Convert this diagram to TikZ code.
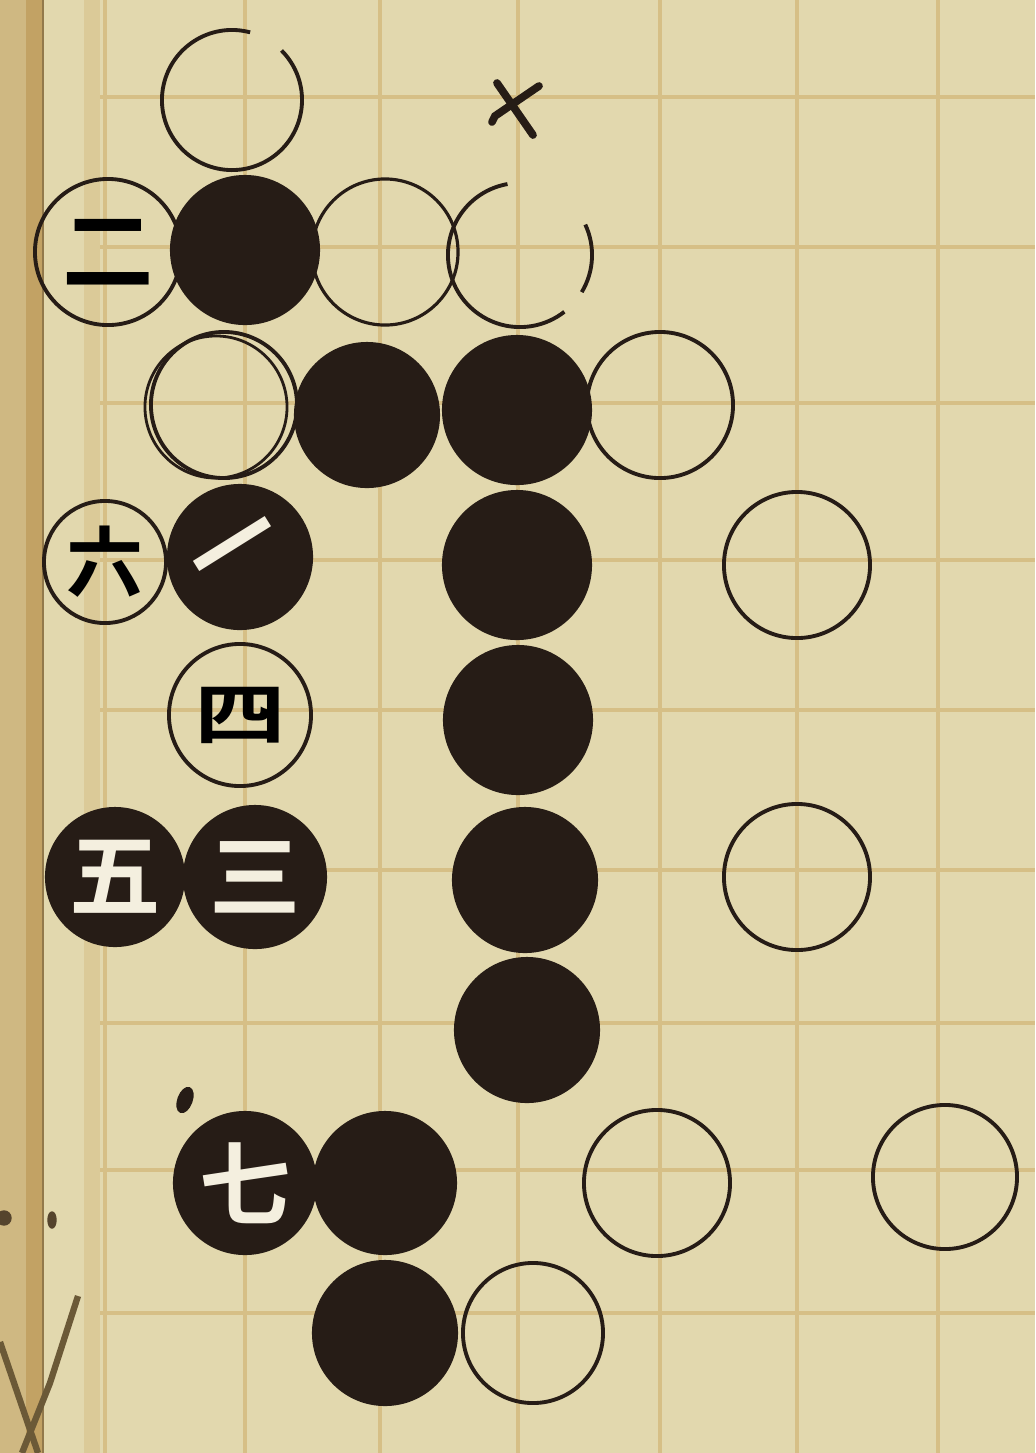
\documentclass[tikz,border=0pt]{standalone}
\usepackage{fontspec}
\usepackage{tikz}
\newfontfamily\jpfont{Noto Sans CJK JP}[BoldFont={Noto Sans CJK JP Bold}]
\definecolor{paper}{HTML}{E2D8AE}
\definecolor{rule}{HTML}{D6BF86}
\definecolor{binding}{HTML}{C2A264}
\definecolor{ink}{HTML}{261C16}
\tikzset{
	stone/.style={circle, minimum size=1.46cm, inner sep=0pt, font=\jpfont\bfseries\fontsize{26}{26}\selectfont},
	wstone/.style={stone, draw=ink, line width=1.1pt},
	bstone/.style={stone, fill=ink, text=paper!40!white},
	gridline/.style={rule, line width=1.3pt},
}

\begin{document}
\begin{tikzpicture}[x=0.01cm, y=-0.01cm]
		\useasboundingbox (0,0) rectangle (1035,1453);
		\fill[paper] (0,0) rectangle (1035,1453);
		\fill[binding] (0,0) rectangle (43,1453);
		\fill[binding!60!paper] (0,0) rectangle (26,1453);
		\draw[binding!75!black, line width=0.8pt] (43,0) -- (43,1453);
		\fill[rule!55!paper] (84,0) rectangle (100,1453);

		\foreach \x in {105,245,380,518,660,797,938}
			\draw[gridline] (\x,0) -- (\x,1453);
		\foreach \y in {97,247,403,560,710,870,1023,1170,1313}
			\draw[gridline] (100,\y) -- (1035,\y);

		% row 0
		\node[stone] (w10) at (232,100) {};
		\draw[ink, line width=1.1pt] (w10.center) ++(75:0.7cm) arc[start angle=75, end angle=405, radius=0.7cm];
		\coordinate (X30) at (515,108);
		\draw[ink, line width=2.2pt, line cap=round] (X30) ++(-18,-25) -- ++(36,52);
		\draw[ink, line width=2.2pt, line cap=round] (X30) ++(24,-22) -- ++(-44,30) -- ++(-3,6);

		% row 1
		\node[wstone] (w01) at (108,252) {二};
		\node[bstone, minimum size=1.5cm] (b11) at (245,250) {};
		\node[wstone, line width=0.9pt] (w21) at (385,252) {};
		\node[stone] (w31) at (520,255) {};
		\draw[ink, line width=1.1pt] (w31.center) ++(100:0.72cm) arc[start angle=100, end angle=308, radius=0.72cm];
		\draw[ink, line width=1.1pt] (w31.center) ++(-31:0.72cm) arc[start angle=-31, end angle=25, radius=0.72cm];

		% row 2
		\node[wstone] (w12) at (224,405) {};
		\draw[ink, line width=0.8pt] (216,407) circle[radius=0.71cm];
		\node[bstone] (b22) at (367,415) {};
		\node[bstone, minimum size=1.5cm] (b32) at (517,410) {};
		\node[wstone] (w42) at (660,405) {};

		% row 3
		\node[wstone, minimum size=1.22cm, font=\jpfont\bfseries\fontsize{22}{22}\selectfont] (w03) at (105,562) {六};
		\node[bstone, rotate=32] (b13) at (240,557) {一};
		\node[bstone, minimum size=1.5cm] (b33) at (517,565) {};
		\node[wstone] (w53) at (797,565) {};

		% row 4
		\node[wstone, minimum size=1.42cm] (w14) at (240,715) {\scalebox{1}[0.75]{四}};
		\node[bstone, minimum size=1.5cm] (b34) at (518,720) {};

		% row 5
		\node[bstone, minimum size=1.4cm] (b05) at (115,877) {五};
		\node[bstone, minimum size=1.44cm] (b15) at (255,877) {三};
		\node[bstone] (b35) at (525,880) {};
		\node[wstone] (w55) at (797,877) {};

		% row 6
		\node[bstone] (b36) at (527,1030) {};

		% row 7
		\node[bstone, minimum size=1.44cm] (b17) at (245,1183) {七};
		\filldraw[ink] (185,1100) ellipse[x radius=0.07cm, y radius=0.13cm, rotate=-20];
		\node[bstone, minimum size=1.44cm] (b27) at (385,1183) {};
		\node[wstone] (w47) at (657,1183) {};
		\node[wstone, minimum size=1.44cm] (w67) at (945,1177) {};

		% row 8
		\node[bstone] (b28) at (385,1333) {};
		\node[wstone, minimum size=1.4cm] (w38) at (533,1333) {};

		\filldraw[ink!70!binding] (4,1218) circle (0.07cm);
		\filldraw[ink!70!binding] (52,1220) ellipse[x radius=0.04cm, y radius=0.08cm];
		\draw[binding!55!black, line width=1.8pt] (0,1342) -- (38,1453);
		\draw[binding!55!black, line width=1.8pt] (78,1296) -- (50,1383) -- (22,1453);
	\end{tikzpicture}
\end{document}
